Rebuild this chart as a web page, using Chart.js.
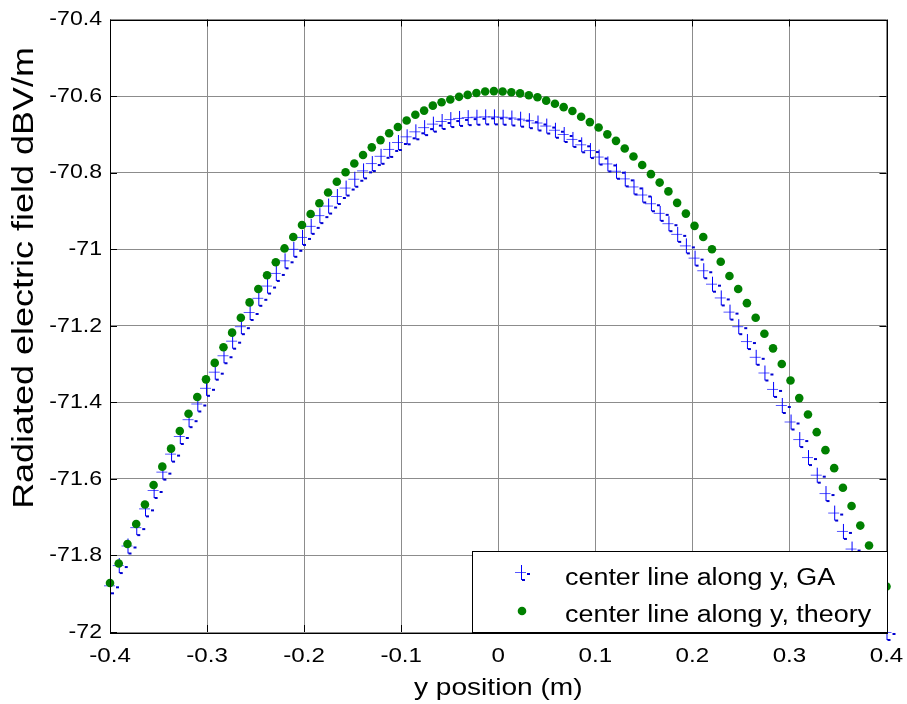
<!DOCTYPE html>
<html>
<head>
<meta charset="utf-8">
<script src="https://cdn.jsdelivr.net/npm/chart.js@4.4.1/dist/chart.umd.min.js"></script>
<style>
  html, body { margin: 0; padding: 0; background: #fff; }
  #wrap { width: 907px; height: 704px; }
</style>
</head>
<body>
<div id="wrap"><canvas id="field-chart" width="907" height="704"></canvas></div>
<script>
// y position (m) of each sample along the center line
var yPos = [
  -0.4000, -0.3910, -0.3820, -0.3730, -0.3640, -0.3551, -0.3461, -0.3371, -0.3281, -0.3191,
  -0.3101, -0.3011, -0.2921, -0.2831, -0.2742, -0.2652, -0.2562, -0.2472, -0.2382, -0.2292,
  -0.2202, -0.2112, -0.2022, -0.1933, -0.1843, -0.1753, -0.1663, -0.1573, -0.1483, -0.1393,
  -0.1303, -0.1213, -0.1124, -0.1034, -0.0944, -0.0854, -0.0764, -0.0674, -0.0584, -0.0494,
  -0.0404, -0.0315, -0.0225, -0.0135, -0.0045, 0.0045, 0.0135, 0.0225, 0.0315, 0.0404,
  0.0494, 0.0584, 0.0674, 0.0764, 0.0854, 0.0944, 0.1034, 0.1124, 0.1213, 0.1303,
  0.1393, 0.1483, 0.1573, 0.1663, 0.1753, 0.1843, 0.1933, 0.2022, 0.2112, 0.2202,
  0.2292, 0.2382, 0.2472, 0.2562, 0.2652, 0.2742, 0.2831, 0.2921, 0.3011, 0.3101,
  0.3191, 0.3281, 0.3371, 0.3461, 0.3551, 0.3640, 0.3730, 0.3820, 0.3910, 0.4000
];

// GA result, dBV/m
var gaValues = [
  -71.878, -71.825, -71.774, -71.726, -71.677, -71.629, -71.581, -71.534, -71.488, -71.444,
  -71.403, -71.362, -71.320, -71.277, -71.239, -71.201, -71.164, -71.127, -71.095, -71.062,
  -71.029, -70.999, -70.968, -70.939, -70.911, -70.886, -70.861, -70.839, -70.816, -70.794,
  -70.775, -70.756, -70.738, -70.720, -70.705, -70.692, -70.681, -70.672, -70.665, -70.660,
  -70.657, -70.655, -70.654, -70.653, -70.653, -70.654, -70.656, -70.659, -70.663, -70.669,
  -70.677, -70.688, -70.699, -70.712, -70.726, -70.741, -70.758, -70.776, -70.795, -70.815,
  -70.836, -70.857, -70.880, -70.905, -70.932, -70.960, -70.990, -71.022, -71.055, -71.090,
  -71.126, -71.163, -71.201, -71.240, -71.281, -71.322, -71.365, -71.407, -71.450, -71.496,
  -71.543, -71.589, -71.637, -71.688, -71.736, -71.782, -71.835, -71.888, -71.946, -72.000
];

// theory, dBV/m
var theoryValues = [
  -71.872, -71.821, -71.770, -71.718, -71.667, -71.616, -71.568, -71.521, -71.475, -71.430,
  -71.386, -71.340, -71.297, -71.256, -71.218, -71.179, -71.139, -71.104, -71.068, -71.034,
  -70.998, -70.968, -70.937, -70.908, -70.880, -70.852, -70.824, -70.799, -70.776, -70.754,
  -70.734, -70.715, -70.697, -70.681, -70.664, -70.649, -70.638, -70.625, -70.616, -70.609,
  -70.602, -70.597, -70.592, -70.588, -70.587, -70.588, -70.590, -70.593, -70.598, -70.603,
  -70.612, -70.620, -70.629, -70.639, -70.654, -70.668, -70.682, -70.700, -70.717, -70.737,
  -70.758, -70.780, -70.804, -70.826, -70.849, -70.879, -70.907, -70.939, -70.968, -71.000,
  -71.033, -71.070, -71.104, -71.141, -71.179, -71.221, -71.259, -71.300, -71.343, -71.389,
  -71.432, -71.478, -71.525, -71.572, -71.623, -71.671, -71.722, -71.774, -71.827, -71.881
];

var seriesNames = ['center line along y, GA', 'center line along y, theory'];
var xTitle = 'y position (m)';
var yTitle = 'Radiated electric field dBV/m';

var xTickValues = [-0.4, -0.3, -0.2, -0.1, 0, 0.1, 0.2, 0.3, 0.4];
var xTickLabels = ['-0.4', '-0.3', '-0.2', '-0.1', '0', '0.1', '0.2', '0.3', '0.4'];
var yTickValues = [-72, -71.8, -71.6, -71.4, -71.2, -71, -70.8, -70.6, -70.4];
var yTickLabels = ['-72', '-71.8', '-71.6', '-71.4', '-71.2', '-71', '-70.8', '-70.6', '-70.4'];

var FONT = '"Liberation Sans", Arial, Helvetica, sans-serif';
var GREEN = '#008000';
var BLUE = '#0000ff';

// the odd matlab "+" marker with its little offset dashes
function makePlus() {
  var c = document.createElement('canvas');
  c.width = 24; c.height = 24;
  var g = c.getContext('2d');
  g.fillStyle = 'rgba(30,30,255,0.75)';
  g.fillRect(6, 12, 11, 1);
  g.fillStyle = BLUE;
  g.fillRect(12, 5, 1, 15);
  g.fillStyle = '#0000d0';
  g.fillRect(18, 13, 3, 2);
  g.fillRect(13, 19, 3, 2);
  return c;
}
var plusMarker = makePlus();

function toPoints(values) {
  return values.map(function (v, i) { return { x: yPos[i], y: v }; });
}

// text in the source figure runs wider along its direction than its height suggests
function wideText(ctx, text, x, y, align, stretch) {
  ctx.save();
  ctx.translate(x, y);
  ctx.scale(stretch, 1);
  ctx.textAlign = align;
  ctx.fillText(text, 0, 0);
  ctx.restore();
}

// axis frame, inward ticks, labels, then the boxed legend on top
var frameAndLegend = {
  id: 'frameAndLegend',
  afterDraw: function (chart) {
    var ctx = chart.ctx, a = chart.chartArea;
    var sx = chart.scales.x, sy = chart.scales.y;
    ctx.save();
    ctx.strokeStyle = '#000';
    ctx.lineWidth = 1;
    ctx.strokeRect(Math.round(a.left) + 0.5, Math.round(a.top) + 0.5,
      Math.round(a.right - a.left), Math.round(a.bottom - a.top));
    ctx.beginPath();
    xTickValues.forEach(function (v) {
      var px = Math.round(sx.getPixelForValue(v)) + 0.5;
      ctx.moveTo(px, a.bottom); ctx.lineTo(px, a.bottom - 7);
      ctx.moveTo(px, a.top); ctx.lineTo(px, a.top + 7);
    });
    yTickValues.forEach(function (v) {
      var py = Math.round(sy.getPixelForValue(v)) + 0.5;
      ctx.moveTo(a.left, py); ctx.lineTo(a.left + 7, py);
      ctx.moveTo(a.right, py); ctx.lineTo(a.right - 7, py);
    });
    ctx.stroke();

    // tick labels and axis titles
    ctx.fillStyle = '#000';
    ctx.font = '21px ' + FONT;
    ctx.textBaseline = 'middle';
    xTickValues.forEach(function (v, i) {
      wideText(ctx, xTickLabels[i], sx.getPixelForValue(v), a.bottom + 24, 'center', 1.15);
    });
    yTickValues.forEach(function (v, i) {
      wideText(ctx, yTickLabels[i], a.left - 8, sy.getPixelForValue(v), 'right', 1.1);
    });
    ctx.font = '24px ' + FONT;
    wideText(ctx, xTitle, (a.left + a.right) / 2, 688, 'center', 1.17);
    ctx.save();
    ctx.translate(25, 278);
    ctx.rotate(-Math.PI / 2);
    ctx.font = '29px ' + FONT;
    wideText(ctx, yTitle, 0, 0, 'center', 1.24);
    ctx.restore();

    // legend
    var w = 415, h = 81;
    var x0 = Math.round(a.right - w), y0 = Math.round(a.bottom - h);
    ctx.fillStyle = '#fff';
    ctx.fillRect(x0, y0, w, h);
    ctx.strokeRect(x0 + 0.5, y0 + 0.5, w, h);
    ctx.drawImage(plusMarker, x0 + 49 - 12, y0 + 21 - 12);
    ctx.fillStyle = GREEN;
    ctx.beginPath();
    ctx.arc(x0 + 50, y0 + 60, 4.3, 0, Math.PI * 2);
    ctx.fill();
    ctx.fillStyle = '#000';
    ctx.font = '23px ' + FONT;
    ctx.textBaseline = 'alphabetic';
    wideText(ctx, seriesNames[0], x0 + 93, y0 + 34, 'left', 1.17);
    wideText(ctx, seriesNames[1], x0 + 93, y0 + 70.5, 'left', 1.17);
    ctx.restore();
  }
};

var ctx = document.getElementById('field-chart');
var chart = new Chart(ctx, {
  type: 'scatter',
  data: {
    datasets: [{
      label: seriesNames[1],
      data: toPoints(theoryValues),
      pointStyle: 'circle',
      pointRadius: 4.3,
      pointBackgroundColor: GREEN,
      pointBorderColor: GREEN,
      pointBorderWidth: 0,
      showLine: false,
      clip: false,
      order: 0
    }, {
      label: seriesNames[0],
      data: toPoints(gaValues),
      pointStyle: plusMarker,
      pointRadius: 8,
      showLine: false,
      clip: false,
      order: 1
    }]
  },
  options: {
    responsive: false,
    animation: false,
    devicePixelRatio: 1,
    layout: { padding: { top: 19.5, right: 20.5, left: 0, bottom: 0 } },
    plugins: {
      legend: { display: false },
      tooltip: { enabled: false }
    },
    scales: {
      x: {
        type: 'linear',
        min: -0.4,
        max: 0.4,
        afterFit: function (s) { s.height = 72; },
        afterBuildTicks: function (s) { s.ticks = xTickValues.map(function (v) { return { value: v }; }); },
        ticks: { display: false },
        grid: { color: '#8c8c8c', lineWidth: 1, drawTicks: false },
        border: { display: false }
      },
      y: {
        type: 'linear',
        min: -72,
        max: -70.4,
        afterFit: function (s) { s.width = 110; },
        afterBuildTicks: function (s) { s.ticks = yTickValues.map(function (v) { return { value: v }; }); },
        ticks: { display: false },
        grid: { color: '#8c8c8c', lineWidth: 1, drawTicks: false },
        border: { display: false }
      }
    }
  },
  plugins: [frameAndLegend]
});
</script>
</body>
</html>
